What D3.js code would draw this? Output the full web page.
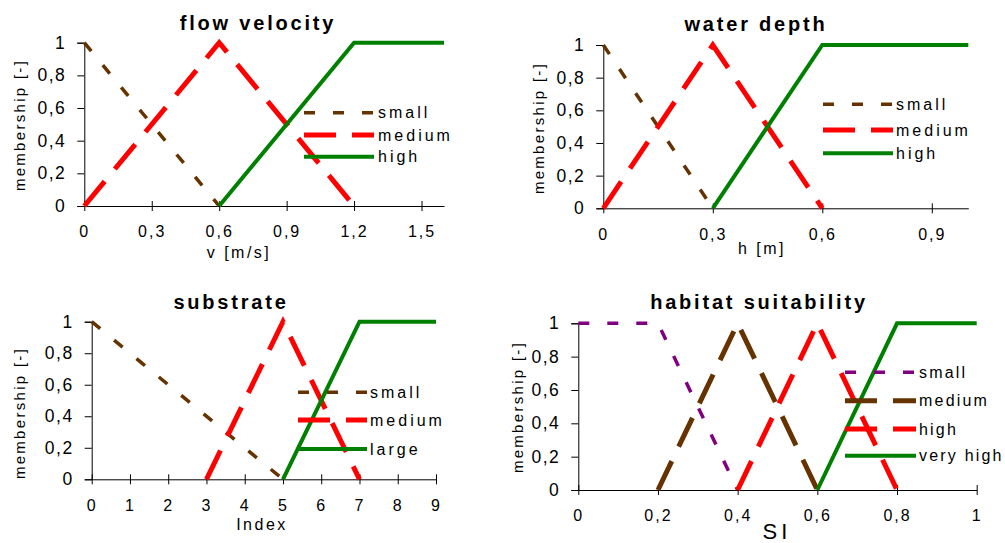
<!DOCTYPE html>
<html>
<head>
<meta charset="utf-8">
<script src="https://cdn.jsdelivr.net/npm/d3@7"></script>
<style>
  body { margin: 0; background: #fff; }
  svg { display: block; font-family: "Liberation Sans", Arial, sans-serif; }
  .title { font-weight: bold; font-size: 20px; letter-spacing: 2.8px; }
  .tick text { font-size: 16px; letter-spacing: 2px; fill: #000; }
  .yaxis .tick text { font-size: 17.5px; letter-spacing: 1.5px; }
  .ylab { font-size: 15px; letter-spacing: 2.3px; }
  .xlab { font-size: 16px; letter-spacing: 2.5px; }
  .leg { font-size: 16px; letter-spacing: 3px; }
</style>
</head>
<body>
<svg id="chart" width="1005" height="543"></svg>
<script>
// membership functions, [x, membership]
var velocitySmall  = [[0, 1], [0.6, 0]];
var velocityMedium = [[0, 0], [0.6, 1], [1.2, 0]];
var velocityHigh   = [[0.6, 0], [1.2, 1], [1.6, 1]];
var velocityTicks  = [0, 0.3, 0.6, 0.9, 1.2, 1.5];

var depthSmall  = [[0, 1], [0.3, 0]];
var depthMedium = [[0, 0], [0.3, 1], [0.6, 0]];
var depthHigh   = [[0.3, 0], [0.6, 1], [1, 1]];
var depthTicks  = [0, 0.3, 0.6, 0.9];

var substrateSmall  = [[0, 1], [5, 0]];
var substrateMedium = [[3, 0], [5, 1], [7, 0]];
var substrateLarge  = [[5, 0], [7, 1], [9, 1]];
var substrateTicks  = [0, 1, 2, 3, 4, 5, 6, 7, 8, 9];

var suitSmall    = [[0, 1], [0.2, 1], [0.4, 0]];
var suitMedium   = [[0.2, 0], [0.4, 1], [0.6, 0]];
var suitHigh     = [[0.4, 0], [0.6, 1], [0.8, 0]];
var suitVeryHigh = [[0.6, 0], [0.8, 1], [1, 1]];
var suitTicks    = [0, 0.2, 0.4, 0.6, 0.8, 1];

var membershipTicks = [0, 0.2, 0.4, 0.6, 0.8, 1];

var labels3 = ["small", "medium", "high"];
var labelsSubstrate = ["small", "medium", "large"];
var labelsSuit = ["small", "medium", "high", "very high"];

// line styles
var BROWN = "#663300", RED = "#ff0000", GREEN = "#008000", PURPLE = "#800080";
var shortDash = {width: 3.5, dash: "11,18"};
var longDash = {width: 5, dash: "32,16"};
var solid = {width: 4, dash: null};

// comma decimal separator
var fmt = d3.formatLocale({decimal: ",", thousands: ".", grouping: [3], currency: ["", ""]}).format("~g");

var panels = [
  {title: "flow velocity", xlab: "v [m/s]", domain: [0, 1.6], ticks: velocityTicks,
   x0: 84.3, x1: 444, yb: 206, yt: 42.7, titleX: 258, titleY: 30, ylabX: 20, ylabY: 125,
   xlabX: 239, xlabY: 258, big: false, legSpacing: 3,
   series: [velocitySmall, velocityMedium, velocityHigh], names: labels3,
   styles: [[BROWN, shortDash], [RED, longDash], [GREEN, solid]],
   legX0: 304, legX1: 374, legT: 378, legY: [112.7, 135, 156.7]},
  {title: "water depth", xlab: "h [m]", domain: [0, 1], ticks: depthTicks,
   x0: 603.3, x1: 968.3, yb: 208.3, yt: 45, titleX: 756, titleY: 31, ylabX: 539, ylabY: 128,
   xlabX: 762, xlabY: 254, big: false, legSpacing: 3,
   series: [depthSmall, depthMedium, depthHigh], names: labels3,
   styles: [[BROWN, shortDash], [RED, longDash], [GREEN, solid]],
   legX0: 823, legX1: 893, legT: 896, legY: [104.3, 130, 153.3]},
  {title: "substrate", xlab: "Index", domain: [0, 9], ticks: substrateTicks,
   x0: 91.7, x1: 436, yb: 479.3, yt: 321.7, titleX: 231, titleY: 309, ylabX: 20, ylabY: 413,
   xlabX: 262, xlabY: 530, big: false, legSpacing: 3,
   series: [substrateSmall, substrateMedium, substrateLarge], names: labelsSubstrate,
   styles: [[BROWN, shortDash], [RED, longDash], [GREEN, solid]],
   legX0: 298, legX1: 367, legT: 370, legY: [392.3, 420, 449]},
  {title: "habitat suitability", xlab: "SI", domain: [0, 1], ticks: suitTicks,
   x0: 578.3, x1: 976.7, yb: 490, yt: 323.3, titleX: 759, titleY: 309, ylabX: 518, ylabY: 407,
   xlabX: 777, xlabY: 539, big: true, legSpacing: 2.2,
   series: [suitSmall, suitMedium, suitHigh, suitVeryHigh], names: labelsSuit,
   styles: [[PURPLE, shortDash], [BROWN, longDash], [RED, longDash], [GREEN, solid]],
   legX0: 845, legX1: 916, legT: 919, legY: [372.3, 400.7, 429, 455.7]}
];

var svg = d3.select("#chart");

panels.forEach(function(p) {
    var x = d3.scaleLinear().domain(p.domain).range([p.x0, p.x1]);
    var y = d3.scaleLinear().domain([0, 1]).range([p.yb, p.yt]);
    var g = svg.append("g");

    // y axis
    var ya = g.append("g").attr("class", "yaxis")
        .attr("transform", "translate(" + p.x0 + ",0)")
        .call(d3.axisLeft(y).tickValues(membershipTicks).tickFormat(fmt).tickSizeOuter(0).tickSize(7).tickPadding(11));
    ya.select(".domain").attr("stroke", "#000");
    ya.selectAll(".tick text").attr("font-family", null).attr("font-size", null);

    // x axis, ticks cross the axis line
    var xa = g.append("g")
        .attr("transform", "translate(0," + p.yb + ")")
        .call(d3.axisBottom(x).tickValues(p.ticks).tickFormat(fmt).tickSizeOuter(0));
    xa.selectAll(".tick line").attr("y1", -5).attr("y2", 5);
    xa.selectAll(".tick text").attr("font-family", null).attr("font-size", null)
        .attr("y", 20).attr("dy", "0.71em");

    g.append("text").attr("class", "title")
        .attr("x", p.titleX).attr("y", p.titleY).attr("text-anchor", "middle").text(p.title);

    g.append("text").attr("class", "ylab")
        .attr("transform", "translate(" + p.ylabX + "," + p.ylabY + ") rotate(-90)")
        .attr("text-anchor", "middle").attr("dy", "0.35em").text("membership [-]");

    var xl = g.append("text").attr("class", "xlab")
        .attr("x", p.xlabX).attr("y", p.xlabY).attr("text-anchor", "middle").text(p.xlab);
    if (p.big) xl.style("font-size", "22px").style("letter-spacing", "4px");

    var line = d3.line().x(function(d) { return x(d[0]); }).y(function(d) { return y(d[1]); });

    p.series.forEach(function(s, i) {
        var st = p.styles[i];
        g.append("path")
            .attr("d", line(s))
            .attr("fill", "none")
            .attr("stroke", st[0])
            .attr("stroke-width", st[1].width)
            .attr("stroke-dasharray", st[1].dash);
    });

    // legend
    p.names.forEach(function(name, i) {
        var st = p.styles[i];
        g.append("line")
            .attr("x1", p.legX0).attr("x2", p.legX1)
            .attr("y1", p.legY[i]).attr("y2", p.legY[i])
            .attr("stroke", st[0])
            .attr("stroke-width", st[1].width)
            .attr("stroke-dasharray", st[1].dash);
        g.append("text").attr("class", "leg")
            .style("letter-spacing", p.legSpacing + "px")
            .attr("x", p.legT).attr("y", p.legY[i]).attr("dy", "0.35em").text(name);
    });
});
</script>
</body>
</html>
